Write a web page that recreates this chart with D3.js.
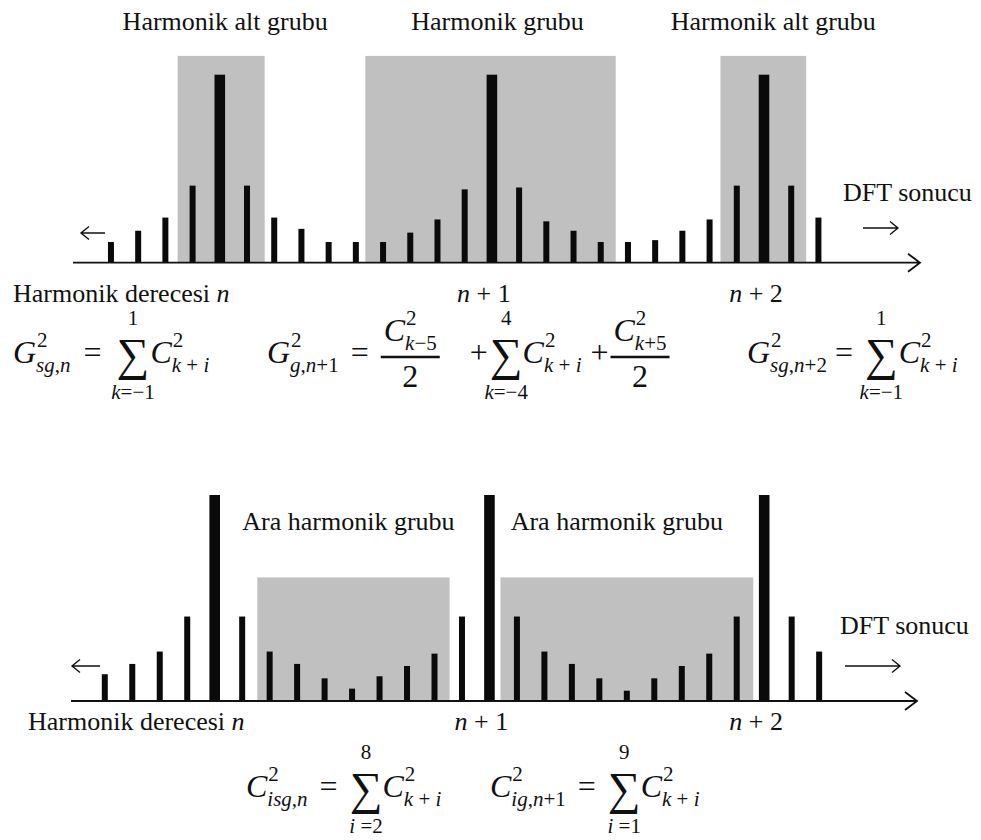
<!DOCTYPE html>
<html>
<head>
<meta charset="utf-8">
<script src="https://cdn.jsdelivr.net/npm/d3@7"></script>
<style>
  body { margin: 0; background: #fff; }
  svg { display: block; }
</style>
</head>
<body>
<svg id="chart" width="981" height="840" font-family="'Liberation Serif', 'Times New Roman', Times, 'DejaVu Serif', serif"></svg>
<script>
// DFT bins; the harmonics n, n+1, n+2 fall on bins 4, 14 and 24
const bins = d3.range(27);
const harmonicBins = [4, 14, 24];
const orderLabels = ["n", "n + 1", "n + 2"];

// relative spectral amplitudes (peak = 100)
const topAmplitude = [11, 17, 24, 41, 100, 41, 24, 18, 11, 11, 11, 16, 23, 39, 100, 40, 22, 17, 11, 11, 12, 17, 23, 41, 100, 41, 24];
const bottomAmplitude = [13, 18, 24, 41, 100, 41, 24, 18, 11, 6, 12, 17, 23, 41, 100, 41, 24, 18, 11, 5, 11, 17, 23, 41, 100, 41, 24];

// grouping windows, in bin units
const topGroupNames = ["Harmonik alt grubu", "Harmonik grubu", "Harmonik alt grubu"];
const topGroupSpans = [[2.45, 5.65], [9.35, 18.55], [22.4, 25.55]];
const topGroupLevel = 110;
const bottomGroupNames = ["Ara harmonik grubu", "Ara harmonik grubu"];
const bottomGroupSpans = [[5.55, 12.55], [14.4, 23.6]];
const bottomGroupLevel = 60;

const svg = d3.select("#chart");
svg.append("rect").attr("width", 981).attr("height", 840).attr("fill", "#fff");

const FS = 26;                    // labels
const MF = 32, MS = 21, SUMF = 46; // formulas: main, scripts/limits, sigma
const INK = "#111";

function mathText(g, x, y, str, size, anchor) {
  const t = g.append("text").attr("x", x).attr("y", y).attr("font-size", size).attr("fill", INK);
  if (anchor) t.attr("text-anchor", anchor);
  str.match(/[A-Za-z]+|[^A-Za-z]+/g).forEach(s => {
    t.append("tspan").text(s).attr("font-style", /[A-Za-z]/.test(s) ? "italic" : "normal");
  });
  return t;
}
const len = t => t.node().getComputedTextLength();

// tiny formula typesetter: text runs, sup/sub pairs, sums with limits, fractions
function layout(g, items, x, y) {
  for (const it of items) {
    if (it.gap !== undefined) { x += it.gap; continue; }
    if (it.t !== undefined) { x += len(mathText(g, x, y, it.t, MF)); continue; }
    if (it.script) {
      const a = mathText(g, x + 1, y - 16, it.script[0], MS);
      const b = mathText(g, x, y + 9, it.script[1], MS);
      x += Math.max(len(a) + 1, len(b));
      continue;
    }
    if (it.sum) {
      const s = g.append("text").attr("x", x).attr("y", y + 7).attr("font-size", SUMF).attr("fill", INK).text("\u2211");
      const w = len(s);
      const cx = x + w / 2;
      mathText(g, cx, y - 38, it.sum[0], MS, "middle");
      mathText(g, cx, y + 36, it.sum[1], MS, "middle");
      x += w;
      continue;
    }
    if (it.frac) {
      const gn = g.append("g"), gd = g.append("g");
      const wn = layout(gn, it.frac[0], 0, y - 22);
      const wd = layout(gd, it.frac[1], 0, y + 24);
      const w = Math.max(wn, wd) + 6;
      gn.attr("transform", `translate(${x + (w - wn) / 2},0)`);
      gd.attr("transform", `translate(${x + (w - wd) / 2},0)`);
      g.append("line").attr("x1", x).attr("x2", x + w).attr("y1", y - 6).attr("y2", y - 6)
        .attr("stroke", INK).attr("stroke-width", 2.4);
      x += w;
      continue;
    }
  }
  return x;
}

function arrow(g, x1, x2, y) {
  const dir = Math.sign(x2 - x1);
  g.append("path")
    .attr("d", `M${x1},${y}H${x2}M${x2 - dir * 8},${y - 6.5}L${x2},${y}L${x2 - dir * 8},${y + 6.5}`)
    .attr("fill", "none").attr("stroke", INK).attr("stroke-width", 1.4);
}

function drawPanel(p) {
  const g = svg.append("g");
  const x = p.x, y = p.y;

  // shaded grouping windows
  g.selectAll("rect.win").data(p.spans).join("rect").attr("class", "win")
    .attr("x", d => x(d[0])).attr("width", d => x(d[1]) - x(d[0]))
    .attr("y", y(p.level)).attr("height", y(0) - y(p.level))
    .attr("fill", "#c0c0c0");

  // window titles
  g.selectAll("text.title").data(p.names).join("text").attr("class", "title")
    .attr("x", (d, i) => (x(p.spans[i][0]) + x(p.spans[i][1])) / 2 + p.titleShift[i])
    .attr("y", p.titleY).attr("text-anchor", "middle").attr("font-size", FS).attr("fill", INK)
    .text(d => d);

  // spectral lines
  g.selectAll("rect.bar").data(bins).join("rect").attr("class", "bar")
    .attr("x", d => x(d) - (harmonicBins.includes(d) ? 5.3 : 3))
    .attr("width", d => harmonicBins.includes(d) ? 10.6 : 6)
    .attr("y", d => y(p.values[d])).attr("height", d => y(0) - y(p.values[d]))
    .attr("fill", "#0a0a0a");

  // frequency axis
  const y0 = y(0);
  g.append("path")
    .attr("d", `M${p.axisStart},${y0}H${p.axisEnd}M${p.axisEnd - 12},${y0 - 9}L${p.axisEnd},${y0}L${p.axisEnd - 12},${y0 + 9}`)
    .attr("fill", "none").attr("stroke", INK).attr("stroke-width", 1.8);

  arrow(g, p.leftArrow[0], p.leftArrow[1], p.leftArrow[2]);
  arrow(g, p.rightArrow[0], p.rightArrow[1], p.rightArrow[2]);
  g.append("text").attr("x", p.dftX).attr("y", p.dftY).attr("font-size", FS).attr("fill", INK).text("DFT sonucu");

  // harmonic order labels
  const lbl = g.append("text").attr("x", p.orderX).attr("y", p.orderY).attr("font-size", FS).attr("fill", INK);
  lbl.append("tspan").text("Harmonik derecesi ");
  lbl.append("tspan").attr("font-style", "italic").text(orderLabels[0]);
  orderLabels.slice(1).forEach((s, i) => {
    mathText(g, x(harmonicBins[i + 1]) - 8, p.orderY, s, FS, "middle");
  });
  return g;
}

drawPanel({
  x: d3.scaleLinear().domain([4, 24]).range([219.8, 764]),
  y: d3.scaleLinear().domain([0, 100]).range([262.7, 74.7]),
  values: topAmplitude, spans: topGroupSpans, level: topGroupLevel, names: topGroupNames,
  titleShift: [4, 7, 10], titleY: 30,
  axisStart: 73, axisEnd: 920,
  leftArrow: [105, 81, 233], rightArrow: [863, 898, 228],
  dftX: 843, dftY: 201, orderX: 13, orderY: 302
});

drawPanel({
  x: d3.scaleLinear().domain([4, 24]).range([214.7, 764.2]),
  y: d3.scaleLinear().domain([0, 100]).range([701, 495]),
  values: bottomAmplitude, spans: bottomGroupSpans, level: bottomGroupLevel, names: bottomGroupNames,
  titleShift: [-5, -10], titleY: 530,
  axisStart: 71, axisEnd: 917,
  leftArrow: [100, 72, 666], rightArrow: [845, 900, 666],
  dftX: 840, dftY: 634, orderX: 28, orderY: 730
});

// grouping formulas
const fg = svg.append("g");
const C2 = sub => [{ t: "C" }, { script: ["2", sub] }];
layout(fg, [{ t: "G" }, { script: ["2", "sg,n"] }, { gap: 13 }, { t: "=" }, { gap: 15 },
  { sum: ["1", "k=\u22121"] }, { gap: 1 }, ...C2("k + i")], 13, 363);
layout(fg, [{ t: "G" }, { script: ["2", "g,n+1"] }, { gap: 12 }, { t: "=" }, { gap: 12 },
  { frac: [C2("k\u22125"), [{ t: "2" }]] }, { gap: 30 }, { t: "+" }, { gap: 2 },
  { sum: ["4", "k=\u22124"] }, ...C2("k + i"), { gap: 9 }, { t: "+" }, { gap: 2 },
  { frac: [C2("k+5"), [{ t: "2" }]] }], 267, 363);
layout(fg, [{ t: "G" }, { script: ["2", "sg,n+2"] }, { gap: 8 }, { t: "=" }, { gap: 12 },
  { sum: ["1", "k=\u22121"] }, { gap: 1 }, ...C2("k + i")], 747, 363);

layout(fg, [...C2("isg,n"), { gap: 12 }, { t: "=" }, { gap: 12 },
  { sum: ["8", "i =2"] }, ...C2("k + i")], 246, 797);
layout(fg, [...C2("ig,n+1"), { gap: 12 }, { t: "=" }, { gap: 12 },
  { sum: ["9", "i =1"] }, ...C2("k + i")], 490, 797);
</script>
</body>
</html>
